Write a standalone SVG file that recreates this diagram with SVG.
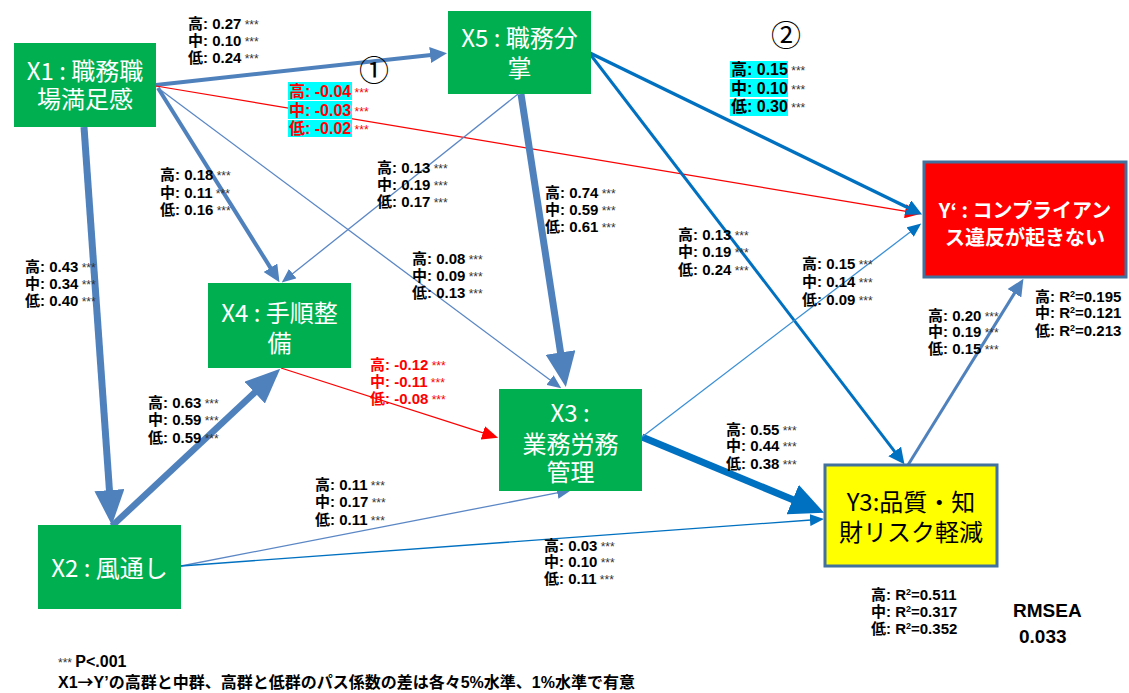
<svg xmlns="http://www.w3.org/2000/svg" width="1129" height="693" viewBox="0 0 1129 693">
<style>
.nd{fill:#00B050}
.nt{font-family:"Noto Sans CJK JP","Noto Sans",sans-serif;font-size:24px;fill:#fff;text-anchor:middle}
.lb{font-family:"Liberation Sans","Noto Sans CJK JP",sans-serif;font-size:15px;font-weight:bold;fill:#000}
.big{font-size:16px}
.st{font-weight:normal;font-size:12px;fill:#333}
.rd{fill:#FF0000}
.cy{fill:#00FFFF}
.circ{font-family:"Noto Sans CJK JP",sans-serif;font-size:30px;fill:#000;text-anchor:middle}
</style>
<defs>
<marker id="mBlueL" markerUnits="userSpaceOnUse" markerWidth="35" markerHeight="30" viewBox="0 0 35 30" refX="1" refY="15" orient="auto"><path d="M0,0L35,15L0,30z" fill="#4F81BD"/></marker>
<marker id="mBlueM" markerUnits="userSpaceOnUse" markerWidth="17" markerHeight="16" viewBox="0 0 17 16" refX="1" refY="8" orient="auto"><path d="M0,0L17,8L0,16z" fill="#4F81BD"/></marker>
<marker id="mBlueS" markerUnits="userSpaceOnUse" markerWidth="14" markerHeight="12" viewBox="0 0 14 12" refX="1" refY="6" orient="auto"><path d="M0,0L14,6L0,12z" fill="#4F81BD"/></marker>
<marker id="mDarkL" markerUnits="userSpaceOnUse" markerWidth="34" markerHeight="32" viewBox="0 0 34 32" refX="1" refY="16" orient="auto"><path d="M0,0L34,16L0,32z" fill="#0070C0"/></marker>
<marker id="mDarkM" markerUnits="userSpaceOnUse" markerWidth="16" markerHeight="16" viewBox="0 0 16 16" refX="1" refY="8" orient="auto"><path d="M0,0L16,8L0,16z" fill="#0070C0"/></marker>
<marker id="mDarkS" markerUnits="userSpaceOnUse" markerWidth="14" markerHeight="12" viewBox="0 0 14 12" refX="1" refY="6" orient="auto"><path d="M0,0L14,6L0,12z" fill="#0070C0"/></marker>
<marker id="mRed" markerUnits="userSpaceOnUse" markerWidth="16" markerHeight="14" viewBox="0 0 16 14" refX="1" refY="7" orient="auto"><path d="M0,0L16,7L0,14z" fill="#FF0000"/></marker>
</defs>
<rect width="1129" height="693" fill="#fff"/>
<g id="connectors" fill="none">
<line x1="156" y1="85" x2="431.1" y2="54.9" stroke="#4F81BD" stroke-width="4" marker-end="url(#mBlueM)"/>
<line x1="158" y1="88" x2="271" y2="268.6" stroke="#4F81BD" stroke-width="4" marker-end="url(#mBlueM)"/>
<line x1="158" y1="88" x2="550.8" y2="380.6" stroke="#5B87C5" stroke-width="1.3" marker-end="url(#mBlueS)"/>
<line x1="84" y1="127" x2="109.5" y2="491.1" stroke="#4F81BD" stroke-width="7" marker-end="url(#mBlueL)"/>
<line x1="156" y1="86" x2="906.2" y2="211.4" stroke="#FF0000" stroke-width="1.2" marker-end="url(#mRed)"/>
<line x1="518" y1="94" x2="291.9" y2="274.3" stroke="#5B87C5" stroke-width="1.3" marker-end="url(#mBlueS)"/>
<line x1="521" y1="94" x2="560.7" y2="353.4" stroke="#4F81BD" stroke-width="7" marker-end="url(#mBlueL)"/>
<line x1="590" y1="53" x2="908.6" y2="208" stroke="#0070C0" stroke-width="3.5" marker-end="url(#mDarkM)"/>
<line x1="590" y1="54" x2="895.3" y2="452.3" stroke="#0070C0" stroke-width="3" marker-end="url(#mDarkM)"/>
<line x1="281" y1="368" x2="483.8" y2="433.1" stroke="#FF0000" stroke-width="1.2" marker-end="url(#mRed)"/>
<line x1="112" y1="526" x2="255.4" y2="391.9" stroke="#4F81BD" stroke-width="6.5" marker-end="url(#mBlueL)"/>
<line x1="181" y1="566" x2="558.3" y2="492.7" stroke="#5B87C5" stroke-width="1.3" marker-end="url(#mBlueS)"/>
<line x1="181" y1="566" x2="811" y2="520" stroke="#0070C0" stroke-width="1.3" marker-end="url(#mDarkS)"/>
<line x1="642" y1="437" x2="793.6" y2="500" stroke="#0070C0" stroke-width="7" marker-end="url(#mDarkL)"/>
<line x1="642" y1="437" x2="910.9" y2="231.5" stroke="#3A8FD6" stroke-width="1.3" marker-end="url(#mDarkS)"/>
<line x1="908" y1="465" x2="1015" y2="292.4" stroke="#4F81BD" stroke-width="3" marker-end="url(#mBlueM)"/>
</g>
<g id="x1"><rect class="nd" x="14" y="43" width="142" height="84"/><text class="nt" x="85" y="80">X1 : 職務職</text><text class="nt" x="85" y="108">場満足感</text></g>
<g id="x5"><rect class="nd" x="448" y="11" width="143" height="83"/><text class="nt" x="519.5" y="47">X5 : 職務分</text><text class="nt" x="519.5" y="77">掌</text></g>
<g id="x4"><rect class="nd" x="208" y="283" width="143" height="85"/><text class="nt" x="279.5" y="322">X4 : 手順整</text><text class="nt" x="279.5" y="352">備</text></g>
<g id="x3"><rect class="nd" x="499" y="389" width="143" height="102"/><text class="nt" x="570" y="422">X3 :</text><text class="nt" x="570.5" y="453">業務労務</text><text class="nt" x="570.5" y="481">管理</text></g>
<g id="x2"><rect class="nd" x="38" y="525" width="143" height="84"/><text class="nt" x="109.5" y="577">X2 : 風通し</text></g>
<g id="yp"><rect x="924" y="162" width="202" height="115" fill="#FF0000" stroke="#41719C" stroke-width="3"/><text class="nt" x="1025" y="218" style="font-size:20px;font-weight:bold">Y‘ : コンプライアン</text><text class="nt" x="1025" y="245" style="font-size:20px;font-weight:bold">ス違反が起きない</text></g>
<g id="y3"><rect x="825" y="465" width="172" height="101" fill="#FFFF00" stroke="#41719C" stroke-width="3"/><text class="nt" x="911" y="511" style="fill:#000">Y3:品質・知</text><text class="nt" x="911" y="541" style="fill:#000">財リスク軽減</text></g>
<g id="labels">
<text class="lb" x="188" y="29">高: 0.27<tspan class="st"> ***</tspan></text>
<text class="lb" x="188" y="46">中: 0.10<tspan class="st"> ***</tspan></text>
<text class="lb" x="188" y="63">低: 0.24<tspan class="st"> ***</tspan></text>
<text class="circ" x="374" y="81">①</text>
<rect class="cy" x="288" y="82" width="64" height="18"/>
<rect class="cy" x="288" y="101" width="64" height="18"/>
<rect class="cy" x="288" y="120" width="64" height="17"/>
<text class="lb big rd" x="289" y="97">高: -0.04<tspan class="st rd"> ***</tspan></text>
<text class="lb big rd" x="289" y="116">中: -0.03<tspan class="st rd"> ***</tspan></text>
<text class="lb big rd" x="289" y="134">低: -0.02<tspan class="st rd"> ***</tspan></text>
<text class="lb" x="160" y="180">高: 0.18<tspan class="st"> ***</tspan></text>
<text class="lb" x="160" y="198">中: 0.11<tspan class="st"> ***</tspan></text>
<text class="lb" x="160" y="215">低: 0.16<tspan class="st"> ***</tspan></text>
<text class="lb" x="377" y="173">高: 0.13<tspan class="st"> ***</tspan></text>
<text class="lb" x="377" y="190">中: 0.19<tspan class="st"> ***</tspan></text>
<text class="lb" x="377" y="207">低: 0.17<tspan class="st"> ***</tspan></text>
<text class="lb" x="545" y="198">高: 0.74<tspan class="st"> ***</tspan></text>
<text class="lb" x="545" y="215">中: 0.59<tspan class="st"> ***</tspan></text>
<text class="lb" x="545" y="232">低: 0.61<tspan class="st"> ***</tspan></text>
<text class="circ" x="786" y="46">②</text>
<rect class="cy" x="730" y="61" width="58" height="17"/>
<rect class="cy" x="730" y="79" width="58" height="18"/>
<rect class="cy" x="730" y="99" width="58" height="17"/>
<text class="lb big" x="731" y="75">高: 0.15<tspan class="st"> ***</tspan></text>
<text class="lb big" x="731" y="94">中: 0.10<tspan class="st"> ***</tspan></text>
<text class="lb big" x="731" y="112">低: 0.30<tspan class="st"> ***</tspan></text>
<text class="lb" x="25" y="272">高: 0.43<tspan class="st"> ***</tspan></text>
<text class="lb" x="25" y="289">中: 0.34<tspan class="st"> ***</tspan></text>
<text class="lb" x="25" y="306">低: 0.40<tspan class="st"> ***</tspan></text>
<text class="lb" x="148" y="408">高: 0.63<tspan class="st"> ***</tspan></text>
<text class="lb" x="148" y="425">中: 0.59<tspan class="st"> ***</tspan></text>
<text class="lb" x="148" y="443">低: 0.59<tspan class="st"> ***</tspan></text>
<text class="lb" x="412" y="264">高: 0.08<tspan class="st"> ***</tspan></text>
<text class="lb" x="412" y="281">中: 0.09<tspan class="st"> ***</tspan></text>
<text class="lb" x="412" y="298">低: 0.13<tspan class="st"> ***</tspan></text>
<text class="lb rd" x="370" y="370">高: -0.12<tspan class="st rd"> ***</tspan></text>
<text class="lb rd" x="370" y="387">中: -0.11<tspan class="st rd"> ***</tspan></text>
<text class="lb rd" x="370" y="404">低: -0.08<tspan class="st rd"> ***</tspan></text>
<text class="lb" x="678" y="240">高: 0.13<tspan class="st"> ***</tspan></text>
<text class="lb" x="678" y="257">中: 0.19<tspan class="st"> ***</tspan></text>
<text class="lb" x="678" y="275">低: 0.24<tspan class="st"> ***</tspan></text>
<text class="lb" x="802" y="269">高: 0.15<tspan class="st"> ***</tspan></text>
<text class="lb" x="802" y="287">中: 0.14<tspan class="st"> ***</tspan></text>
<text class="lb" x="802" y="305">低: 0.09<tspan class="st"> ***</tspan></text>
<text class="lb" x="928" y="321">高: 0.20<tspan class="st"> ***</tspan></text>
<text class="lb" x="928" y="337">中: 0.19<tspan class="st"> ***</tspan></text>
<text class="lb" x="928" y="354">低: 0.15<tspan class="st"> ***</tspan></text>
<text class="lb" x="1035" y="302">高: R<tspan font-size="9" dy="-5">2</tspan><tspan dy="5">=0.195</tspan></text>
<text class="lb" x="1035" y="318">中: R<tspan font-size="9" dy="-5">2</tspan><tspan dy="5">=0.121</tspan></text>
<text class="lb" x="1035" y="336">低: R<tspan font-size="9" dy="-5">2</tspan><tspan dy="5">=0.213</tspan></text>
<text class="lb" x="726" y="435">高: 0.55<tspan class="st"> ***</tspan></text>
<text class="lb" x="726" y="451">中: 0.44<tspan class="st"> ***</tspan></text>
<text class="lb" x="726" y="469">低: 0.38<tspan class="st"> ***</tspan></text>
<text class="lb" x="315" y="490">高: 0.11<tspan class="st"> ***</tspan></text>
<text class="lb" x="315" y="507">中: 0.17<tspan class="st"> ***</tspan></text>
<text class="lb" x="315" y="525">低: 0.11<tspan class="st"> ***</tspan></text>
<text class="lb" x="544" y="551">高: 0.03<tspan class="st"> ***</tspan></text>
<text class="lb" x="544" y="567">中: 0.10<tspan class="st"> ***</tspan></text>
<text class="lb" x="544" y="584">低: 0.11<tspan class="st"> ***</tspan></text>
<text class="lb" x="871" y="600">高: R<tspan font-size="9" dy="-5">2</tspan><tspan dy="5">=0.511</tspan></text>
<text class="lb" x="871" y="617">中: R<tspan font-size="9" dy="-5">2</tspan><tspan dy="5">=0.317</tspan></text>
<text class="lb" x="871" y="634">低: R<tspan font-size="9" dy="-5">2</tspan><tspan dy="5">=0.352</tspan></text>
<text class="lb" x="1013" y="617" style="font-size:19px">RMSEA</text>
<text class="lb" x="1019" y="643" style="font-size:19px">0.033</text>
<text class="lb big" x="58" y="667"><tspan class="st">*** </tspan>P&lt;.001</text>
<text class="lb big" x="58" y="688">X1<tspan font-family="Noto Sans CJK JP">→</tspan>Y’の高群と中群、高群と低群のパス係数の差は各々5%水準、1%水準で有意</text>
</g>
</svg>
